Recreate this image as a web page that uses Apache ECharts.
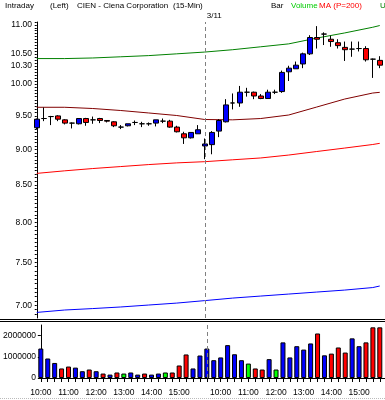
<!DOCTYPE html>
<html><head><meta charset="utf-8">
<script src="https://cdn.jsdelivr.net/npm/echarts@6/dist/echarts.min.js"></script>
<style>html,body{margin:0;padding:0;background:#fff}#c{width:385px;height:400px}</style>
</head><body><div id="c"></div>
<script>
// ---- data ----
const times = ['10:00','10:15','10:30','10:45','11:00','11:15','11:30','11:45','12:00','12:15','12:30','12:45',
  '13:00','13:15','13:30','13:45','14:00','14:15','14:30','14:45','15:00','15:15','15:30','15:45',
  '9:30','9:45','10:00','10:15','10:30','10:45','11:00','11:15','11:30','11:45','12:00','12:15','12:30','12:45',
  '13:00','13:15','13:30','13:45','14:00','14:15','14:30','14:45','15:00','15:15','15:30','15:45'];
const dayBreakIndex = 24;
const dayBreakLabel = '3/11';

const openP  = [9.32,9.46,9.49,9.50,9.44,9.39,9.38,9.46,9.44,9.46,9.43,9.41,9.33,9.35,9.40,9.38,9.38,9.39,9.42,9.42,9.33,9.23,9.17,9.23,
  9.05,9.07,9.27,9.41,9.70,9.70,9.87,9.87,9.81,9.77,9.87,9.88,10.20,10.25,10.33,10.50,10.78,10.84,10.75,10.69,10.61,10.58,10.59,10.59,10.41,10.39];
const closeP = [9.45,9.46,9.49,9.45,9.39,9.39,9.46,9.40,9.44,9.43,9.42,9.35,9.33,9.38,9.40,9.38,9.38,9.44,9.42,9.33,9.26,9.17,9.25,9.29,
  9.08,9.25,9.43,9.67,9.70,9.87,9.87,9.81,9.77,9.87,9.87,10.19,10.26,10.31,10.50,10.78,10.75,10.84,10.71,10.64,10.57,10.58,10.59,10.40,10.41,10.31];
const lowP   = [9.30,9.42,9.36,9.42,9.37,9.31,9.37,9.35,9.38,9.39,9.40,9.33,9.30,9.34,9.36,9.33,9.35,9.34,9.39,9.32,9.25,9.08,9.16,9.23,
  8.86,8.93,9.18,9.40,9.60,9.64,9.80,9.76,9.76,9.77,9.84,9.86,10.05,10.25,10.26,10.48,10.59,10.65,10.62,10.59,10.38,10.45,10.54,10.37,10.10,10.26];
const highP  = [9.46,9.63,9.50,9.51,9.45,9.40,9.46,9.47,9.49,9.47,9.43,9.42,9.36,9.38,9.43,9.41,9.40,9.44,9.46,9.44,9.35,9.26,9.25,9.36,
  9.16,9.27,9.45,9.76,9.85,9.97,9.94,9.88,9.84,9.91,9.91,10.22,10.30,10.37,10.52,10.82,10.98,10.87,10.81,10.75,10.71,10.71,10.71,10.63,10.42,10.46];

const volume = [1390000,920000,710000,450000,540000,490000,320000,400000,320000,210000,160000,260000,210000,260000,160000,210000,160000,210000,260000,260000,590000,1110000,450000,1060000,
  1390000,840000,970000,1550000,1120000,840000,680000,450000,400000,890000,400000,1680000,970000,1500000,1340000,1630000,2100000,1070000,1150000,1440000,1200000,1870000,1500000,1680000,2390000,2390000];
const volDir = ['u','u','u','d','d','u','u','d','u','d','u','d','n','u','u','d','u','u','n','d','d','d','u','u',
  'u','u','u','u','u','u','n','d','d','u','n','u','u','u','u','u','d','u','d','d','d','u','u','d','d','d'];

// overlay lines, read at these bar positions
const lineIdx   = [0,4,8,12,16,20,24,28,32,36,40,44,48,49];
const upperBand = [10.42,10.42,10.43,10.45,10.47,10.50,10.53,10.57,10.62,10.67,10.77,10.86,10.96,10.99];
const ma200     = [9.633,9.633,9.614,9.583,9.545,9.506,9.445,9.44,9.46,9.514,9.637,9.762,9.857,9.868];
const lowerBand = [8.659,8.695,8.727,8.755,8.783,8.807,8.824,8.851,8.877,8.919,8.970,9.020,9.072,9.089];
const outerBand = [6.92,6.947,6.963,6.981,7.003,7.025,7.053,7.082,7.105,7.128,7.151,7.174,7.203,7.221];

const priceTicks = [7.00,7.50,8.00,8.50,9.00,9.50,10.00,10.30,10.50,11.00];
const volTicks = [0,1000000,2000000];

// ---- chart ----
const FONT = 'Liberation Sans, Arial, sans-serif';
const dirColor = {u:'#0000ff', d:'#ff0000', n:'#00ff00'};
const minorPrice = [];
for (let v = 690; v <= 1105; v += 5) minorPrice.push(v / 100);
const chart = echarts.init(document.getElementById('c'), null, {renderer:'canvas'});
const xMin = -0.25, xMax = 49.75;
const dashed = {color:'#808080', type:[4,3], width:1};
function lineSeries(arr, color){
  return {type:'line', xAxisIndex:0, yAxisIndex:0, data: lineIdx.map((x,k)=>[x, arr[k]]),
    showSymbol:false, symbol:'none', lineStyle:{color, width:1}, silent:true, z:1};
}
const hourIdx = times.map((t,i)=>t.endsWith(':00') ? i : -1).filter(i=>i>=0);
chart.setOption({
  animation:false,
  textStyle:{fontFamily:FONT},
  grid:[{left:35,right:0,top:22,height:296},{left:35,right:0,top:325,height:53}],
  xAxis:[
    {gridIndex:0,type:'value',min:xMin,max:xMax,show:false},
    {gridIndex:1,type:'value',min:xMin,max:xMax,
      axisLine:{show:true,lineStyle:{color:'#000',width:1}},
      axisTick:{show:true,customValues:times.map((t,i)=>i),length:4,lineStyle:{color:'#000'}},
      axisLabel:{customValues:hourIdx,formatter:v=>times[Math.round(v)],fontSize:8.5,color:'#000',margin:10,fontFamily:FONT},
      splitLine:{show:false}}
  ],
  yAxis:[
    {gridIndex:0,type:'log',logBase:10,min:6.858,max:11.053,
      axisLine:{show:true,lineStyle:{color:'#000'}},
      axisTick:{show:true,customValues:minorPrice,length:2,lineStyle:{color:'#000'}},
      axisLabel:{customValues:priceTicks,formatter:v=>Number(v).toFixed(2),fontSize:8.5,color:'#000',margin:3,fontFamily:FONT},
      splitLine:{show:false}},
    {gridIndex:1,type:'value',min:0,max:2500000,
      axisLine:{show:true,lineStyle:{color:'#000'}},
      axisTick:{show:true,customValues:volTicks,length:3,lineStyle:{color:'#000'}},
      minorTick:{show:false},
      axisLabel:{customValues:volTicks,formatter:v=>String(Math.round(v)),fontSize:8.5,color:'#000',margin:3,fontFamily:FONT},
      splitLine:{show:false}}
  ],
  series:[
    lineSeries(upperBand,'#008000'),
    lineSeries(ma200,'#800000'),
    lineSeries(lowerBand,'#ff0000'),
    lineSeries(outerBand,'#0000ff'),
    {type:'candlestick',xAxisIndex:0,yAxisIndex:0,
      data: times.map((t,i)=>[i, openP[i], closeP[i], lowP[i], highP[i]]),
      encode:{x:0,y:[1,2,3,4]},
      barWidth:5, z:3,
      itemStyle:{color:'#0000ff',color0:'#ff0000',borderColor:'#000',borderColor0:'#000',borderColorDoji:'#000',borderWidth:1},
      markLine:{silent:true,symbol:'none',lineStyle:dashed,label:{show:false},data:[{xAxis:dayBreakIndex}]}
    },
    {type:'bar',xAxisIndex:1,yAxisIndex:1,barWidth:5,
      data: volume.map((v,i)=>({value:[i,v],itemStyle:{color:dirColor[volDir[i]]}})),
      itemStyle:{borderColor:'#000',borderWidth:1},
      markLine:{silent:true,symbol:'none',lineStyle:dashed,label:{show:false},data:[{xAxis:dayBreakIndex}]}
    }
  ]
});
const bx = chart.convertToPixel({xAxisIndex:0}, dayBreakIndex);
function txt(x, s, color){ return {type:'text', left:x, top:2, style:{text:s, fill:color||'#000', font:'8px '+FONT}}; }
chart.setOption({graphic:[
  txt(5,'Intraday'), txt(50,'(Left)'), txt(77,'CIEN - Ciena Corporation'), txt(173,'(15-Min)'),
  txt(271,'Bar'), txt(291,'Volume','#00cc00'), txt(319,'MA (P=200)','#ff0000'), txt(380,'Upper','#008000'),
  {type:'text', left:bx+2, top:12, style:{text:dayBreakLabel, fill:'#000', font:'8px '+FONT}},
  {type:'line', shape:{x1:0,y1:319.5,x2:385,y2:319.5}, style:{stroke:'#000',lineWidth:1}},
  {type:'line', shape:{x1:0,y1:321.5,x2:385,y2:321.5}, style:{stroke:'#000',lineWidth:1}},
  {type:'line', shape:{x1:0,y1:398.5,x2:385,y2:398.5}, style:{stroke:'#bbbbbb',lineWidth:1,lineDash:[1,1]}}
]});
</script></body></html>
